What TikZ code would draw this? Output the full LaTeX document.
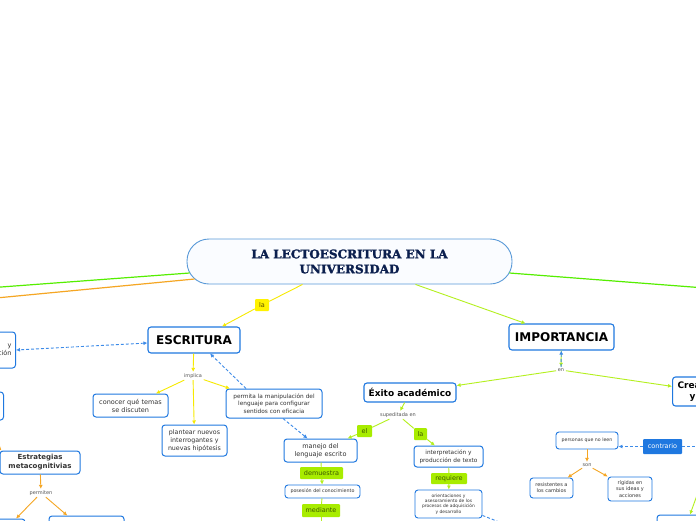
\documentclass[tikz,border=0pt]{standalone}
\usepackage{fontspec}
\setmainfont{DejaVu Sans}
\newfontfamily\titlefont[BoldFeatures={FakeBold=1.6}]{DejaVu Serif}
\usepackage{xcolor}
\usepackage{tikz}
\usetikzlibrary{arrows.meta,positioning}
\definecolor{titlenavy}{HTML}{0B1F4E}
\definecolor{rootblue}{HTML}{5A9AD8}
\definecolor{rootfill}{HTML}{FAFCFF}
\definecolor{nodeblue}{HTML}{1F78E0}
\definecolor{dashblue}{HTML}{3D8BE8}
\definecolor{lineyellow}{HTML}{F7EA00}
\definecolor{tagyellow}{HTML}{FFF200}
\definecolor{tagbrown}{HTML}{5C5000}
\definecolor{linelime}{HTML}{B4F01E}
\definecolor{taglime}{HTML}{A8EC00}
\definecolor{tagtext}{HTML}{3E5A00}
\definecolor{lineorange}{HTML}{F5A623}
\definecolor{linegreen}{HTML}{55EE00}
\definecolor{linkgray}{HTML}{555555}
\tikzset{
  mainidea/.style={
    draw=rootblue,
    fill=rootfill,
    rounded corners=22pt,
    line width=0.9pt,
    align=center,
    text=titlenavy,
    font=\titlefont\bfseries\fontsize{12}{15}\selectfont,
    minimum width=325pt,
    minimum height=45pt,
    inner sep=0pt
  },
  topicbox/.style={
    draw=nodeblue,
    fill=white,
    rounded corners=3pt,
    line width=1.1pt,
    align=center,
    inner sep=0pt
  },
  bigtopic/.style={topicbox, font=\bfseries\fontsize{12}{14}\selectfont},
  subtopic/.style={topicbox, font=\bfseries\fontsize{9}{11}\selectfont},
  smallbox/.style={topicbox, line width=1pt, text=black!80, font=\fontsize{6.5}{8}\selectfont},
  tinybox/.style={topicbox, line width=0.9pt, text=black!80, font=\fontsize{4.8}{5.8}\selectfont},
  linkword/.style={text=linkgray, font=\fontsize{5}{6}\selectfont, inner sep=1.5pt},
  yellowtag/.style={
    fill=tagyellow,
    rounded corners=1pt,
    text=tagbrown,
    font=\fontsize{6.5}{8}\selectfont,
    inner sep=0pt
  },
  limetag/.style={yellowtag, fill=taglime, text=tagtext},
  bluetag/.style={yellowtag, fill=nodeblue, text=white},
  yellowline/.style={draw=lineyellow, line width=0.9pt},
  yellowarrow/.style={yellowline, -{Latex[length=4pt,width=4pt]}},
  limeline/.style={draw=linelime, line width=0.9pt},
  limearrow/.style={limeline, -{Latex[length=4pt,width=4pt]}},
  orangearrow/.style={draw=lineorange, line width=0.9pt, -{Latex[length=4pt,width=4pt]}},
  dashline/.style={draw=dashblue, line width=0.9pt, dash pattern=on 3pt off 2pt},
  dasharrow/.style={dashline, -{Latex[length=4pt,width=4pt]}},
  rootline/.style={line width=1.2pt}
}

\begin{document}
\begin{tikzpicture}[x=1pt,y=-1pt]
    \clip (0,0) rectangle (696,520);
    \fill[white] (0,0) rectangle (696,520);

    \node[mainidea] (root) at (349.5,261.5) {LA LECTOESCRITURA EN LA\\UNIVERSIDAD};
    \node[bigtopic, minimum width=92pt, minimum height=26pt] (escritura) at (194,340) {ESCRITURA};
    \node[bigtopic, minimum width=105pt, minimum height=26pt] (importancia) at (561.5,337) {IMPORTANCIA};
    \node[yellowtag, minimum width=14pt, minimum height=12pt] (tagla) at (262,305) {la};

    \node[smallbox, anchor=east, align=right, text width=84pt, inner xsep=4pt, minimum height=36pt] (leftA) at (16,350) {y\hspace*{8pt}\\ción};
    \node[smallbox, anchor=east, minimum width=88pt, minimum height=28pt] (leftB) at (4,406) {};
    \node[smallbox, font=\bfseries\fontsize{7}{9}\selectfont, minimum width=80pt, minimum height=23pt] (estrategias) at (40,462.5) {Estrategias\\metacognitivias};
    \node[linkword] (permiten) at (41,493) {permiten};
    \node[smallbox, minimum width=50pt, minimum height=32pt] (bottomA) at (0,535) {};
    \node[smallbox, minimum width=75pt, minimum height=32pt] (bottomB) at (86.5,532) {};

    \node[linkword] (implica) at (193,376) {implica};
    \node[smallbox, minimum width=75pt, minimum height=23pt] (conocer) at (130.5,405.5) {conocer qué temas\\se discuten};
    \node[smallbox, font=\fontsize{6.3}{7.8}\selectfont, minimum width=65pt, minimum height=31pt] (plantear) at (194.5,440.5) {plantear nuevos\\interrogantes y\\nuevas hipótesis};
    \node[smallbox, font=\fontsize{5.8}{7.6}\selectfont, minimum width=96pt, minimum height=29pt] (permita) at (274,403.5) {permita la manipulación del\\lenguaje para configurar\\sentidos con eficacia};

    \node[subtopic, minimum width=92pt, minimum height=19pt] (exito) at (410,392.5) {Éxito académico};
    \node[linkword] (supeditada) at (398,415) {supeditada en};
    \node[limetag, minimum width=15pt, minimum height=12pt] (tagel) at (364.5,431) {el};
    \node[limetag, minimum width=13pt, minimum height=12pt] (taglados) at (420.5,434) {la};
    \node[smallbox, minimum width=73pt, minimum height=23pt] (manejo) at (320.5,450.5) {manejo del\\lenguaje escrito};
    \node[limetag, minimum width=43pt, minimum height=12pt] (demuestra) at (321.5,473) {demuestra};
    \node[tinybox, minimum width=75pt, minimum height=13pt] (posesion) at (322.5,491.5) {posesión del conocimiento};
    \node[limetag, minimum width=38pt, minimum height=13pt] (mediante) at (321,510.5) {mediante};
    \node[smallbox, font=\fontsize{5.8}{7.6}\selectfont, minimum width=69pt, minimum height=21pt] (interpretacion) at (448.5,456.5) {interpretación y\\producción de texto};
    \node[limetag, minimum width=36pt, minimum height=11pt] (requiere) at (449,478.5) {requiere};
    \node[tinybox, font=\fontsize{4.4}{5.4}\selectfont, minimum width=67pt, minimum height=28pt] (orientaciones) at (448.5,504) {orientaciones y\\asesoramiento de los\\procesos de adquisición\\y desarrollo};

    \node[linkword] (en) at (561,370) {en};
    \node[subtopic, anchor=west, align=left, inner xsep=5pt, minimum height=29pt] (creatividad) at (672,391.5) {Creatividad\\\hspace*{12pt}y};
    \node[tinybox, font=\fontsize{4.7}{5.7}\selectfont, minimum width=62pt, minimum height=17pt] (personas) at (587,440.5) {personas que no leen};
    \node[bluetag, minimum width=39pt, minimum height=15pt] (contrario) at (662.5,446.5) {contrario};
    \node[linkword] (son) at (587,465) {son};
    \node[tinybox, font=\fontsize{5}{6.2}\selectfont, minimum width=43pt, minimum height=20pt] (resistentes) at (551.5,488) {resistentes a\\los cambios};
    \node[tinybox, font=\fontsize{5}{6.2}\selectfont, minimum width=44pt, minimum height=24pt] (rigidas) at (630,489) {rígidas en\\sus ideas y\\acciones};
    \node[smallbox, minimum width=66pt, minimum height=30pt] (bottomR) at (690,530) {};

    \coordinate (leftgreen) at (-30,289.3);
    \coordinate (leftorange) at (-30,300.5);
    \coordinate (rightgreen) at (726,289.6);
    \coordinate (estrategiasin) at (-12,436);
    \coordinate (medianteout) at (321,530);
    \coordinate (orientout) at (512,527);
    \coordinate (contrarioout) at (712,446.5);
    \coordinate (bottomRin) at (704,476);

    \draw[rootline, draw=linegreen] ([xshift=3pt,yshift=-11.5pt]root.west) -- (leftgreen);
    \draw[rootline, draw=lineorange] ([xshift=8pt,yshift=-17.5pt]root.west) -- (leftorange);
    \draw[rootline, draw=linegreen] ([xshift=-3pt,yshift=-11.5pt]root.east) -- (rightgreen);
    \draw[yellowline] ([xshift=-47pt]root.south) -- (tagla);
    \draw[yellowarrow] (tagla) -- ([xshift=28pt]escritura.north);
    \draw[limearrow] ([xshift=66pt]root.south) -- ([xshift=-36pt]importancia.north);

    \draw[dashline, {Latex[length=4pt,width=4pt]}-{Latex[length=4pt,width=4pt]}] ([yshift=-3pt]escritura.west) -- (leftA.east);
    \draw[orangearrow] (estrategiasin) -- ([xshift=2pt]estrategias.north west);
    \draw[orangearrow] (estrategias) -- (permiten);
    \draw[orangearrow] (permiten) -- (bottomA);
    \draw[orangearrow] (permiten) -- (bottomB);

    \draw[yellowarrow] (escritura) -- (implica);
    \draw[yellowarrow] (implica) -- (conocer);
    \draw[yellowarrow] (implica) -- (plantear);
    \draw[yellowarrow] (implica) -- (permita);
    \draw[dasharrow] ([xshift=-28pt]permita.north) -- ([xshift=16pt]escritura.south);
    \draw[dasharrow] ([xshift=9pt]permita.south) -- ([xshift=-13pt]manejo.north);

    \draw[limearrow] (importancia) -- (en);
    \draw[dasharrow] (en) -- (importancia);
    \draw[limearrow] (en) -- (exito);
    \draw[limearrow] (en) -- (creatividad);
    \draw[limearrow] (exito) -- (supeditada);
    \draw[limeline] (supeditada) -- (tagel);
    \draw[limearrow] (tagel) -- (manejo);
    \draw[limeline] (supeditada) -- (taglados);
    \draw[limearrow] (taglados) -- (interpretacion);
    \draw[limeline] (manejo) -- (demuestra);
    \draw[limearrow] (demuestra) -- (posesion);
    \draw[limeline] (posesion) -- (mediante);
    \draw[limeline] (mediante) -- (medianteout);
    \draw[limeline] (interpretacion) -- (requiere);
    \draw[limearrow] (requiere) -- (orientaciones);
    \draw[dashline] ([yshift=3pt]orientaciones.south east) -- (orientout);

    \draw[dasharrow] (contrario.west) -- (contrario.west -| personas.east);
    \draw[dashline] (contrario.east) -- (contrarioout);
    \draw[orangearrow] (personas) -- (son);
    \draw[orangearrow] (son) -- (resistentes);
    \draw[orangearrow] (son) -- (rigidas);
    \draw[limearrow] (bottomRin) -- (bottomR.north);
\end{tikzpicture}
\end{document}
